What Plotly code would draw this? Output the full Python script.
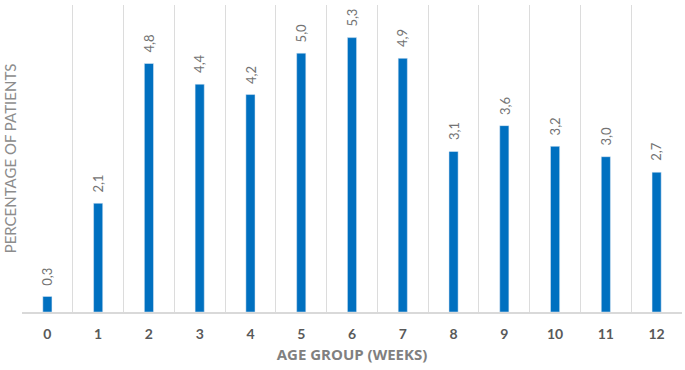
import plotly.graph_objects as go

weeks = list(range(13))
tick_labels = [str(w) for w in weeks]
percent = [0.3, 2.1, 4.8, 4.4, 4.2, 5.0, 5.3, 4.9, 3.1, 3.6, 3.2, 3.0, 2.7]
bar_labels = [f"{v:.1f}".replace(".", ",") for v in percent]

fig = go.Figure(go.Bar(
    x=weeks, y=percent,
    marker_color="#0070C0", cliponaxis=False,
))

for w, v, t in zip(weeks, percent, bar_labels):
    fig.add_annotation(
        x=w, y=v, text=t, textangle=-90, showarrow=False,
        xanchor="center", yanchor="bottom", yshift=9,
        font=dict(family="Lato", size=13, color="#737373"),
    )

fig.update_layout(
    width=685, height=370,
    margin=dict(l=22, r=3, t=5, b=58),
    paper_bgcolor="white", plot_bgcolor="white",
    bargap=0.82, showlegend=False,
    font=dict(family="Lato"),
)
fig.update_xaxes(
    range=[-0.5, 12.5], tickvals=weeks, ticktext=tick_labels,
    showgrid=False, zeroline=False,
    showline=True, linecolor="#d9d9d9", linewidth=1.5,
    tickfont=dict(family="Lato", size=14, color="#595959", weight=700),
    ticks="", ticklabelstandoff=8,
    minor=dict(tickvals=[w - 0.5 for w in weeks] + [12.5], showgrid=True,
               gridcolor="#dcdcdc", gridwidth=1, ticks=""),
    title=dict(text="AGE GROUP (WEEKS)", standoff=9,
               font=dict(family="Open Sans", size=15, color="#808080", weight=700)),
)
fig.update_yaxes(
    range=[0, 5.93], showgrid=False, zeroline=False, showticklabels=False,
    title=dict(text="PERCENTAGE OF PATIENTS", standoff=0,
               font=dict(family="Lato", size=15, color="#8c8c8c")),
)

fig.write_html("out.html")
